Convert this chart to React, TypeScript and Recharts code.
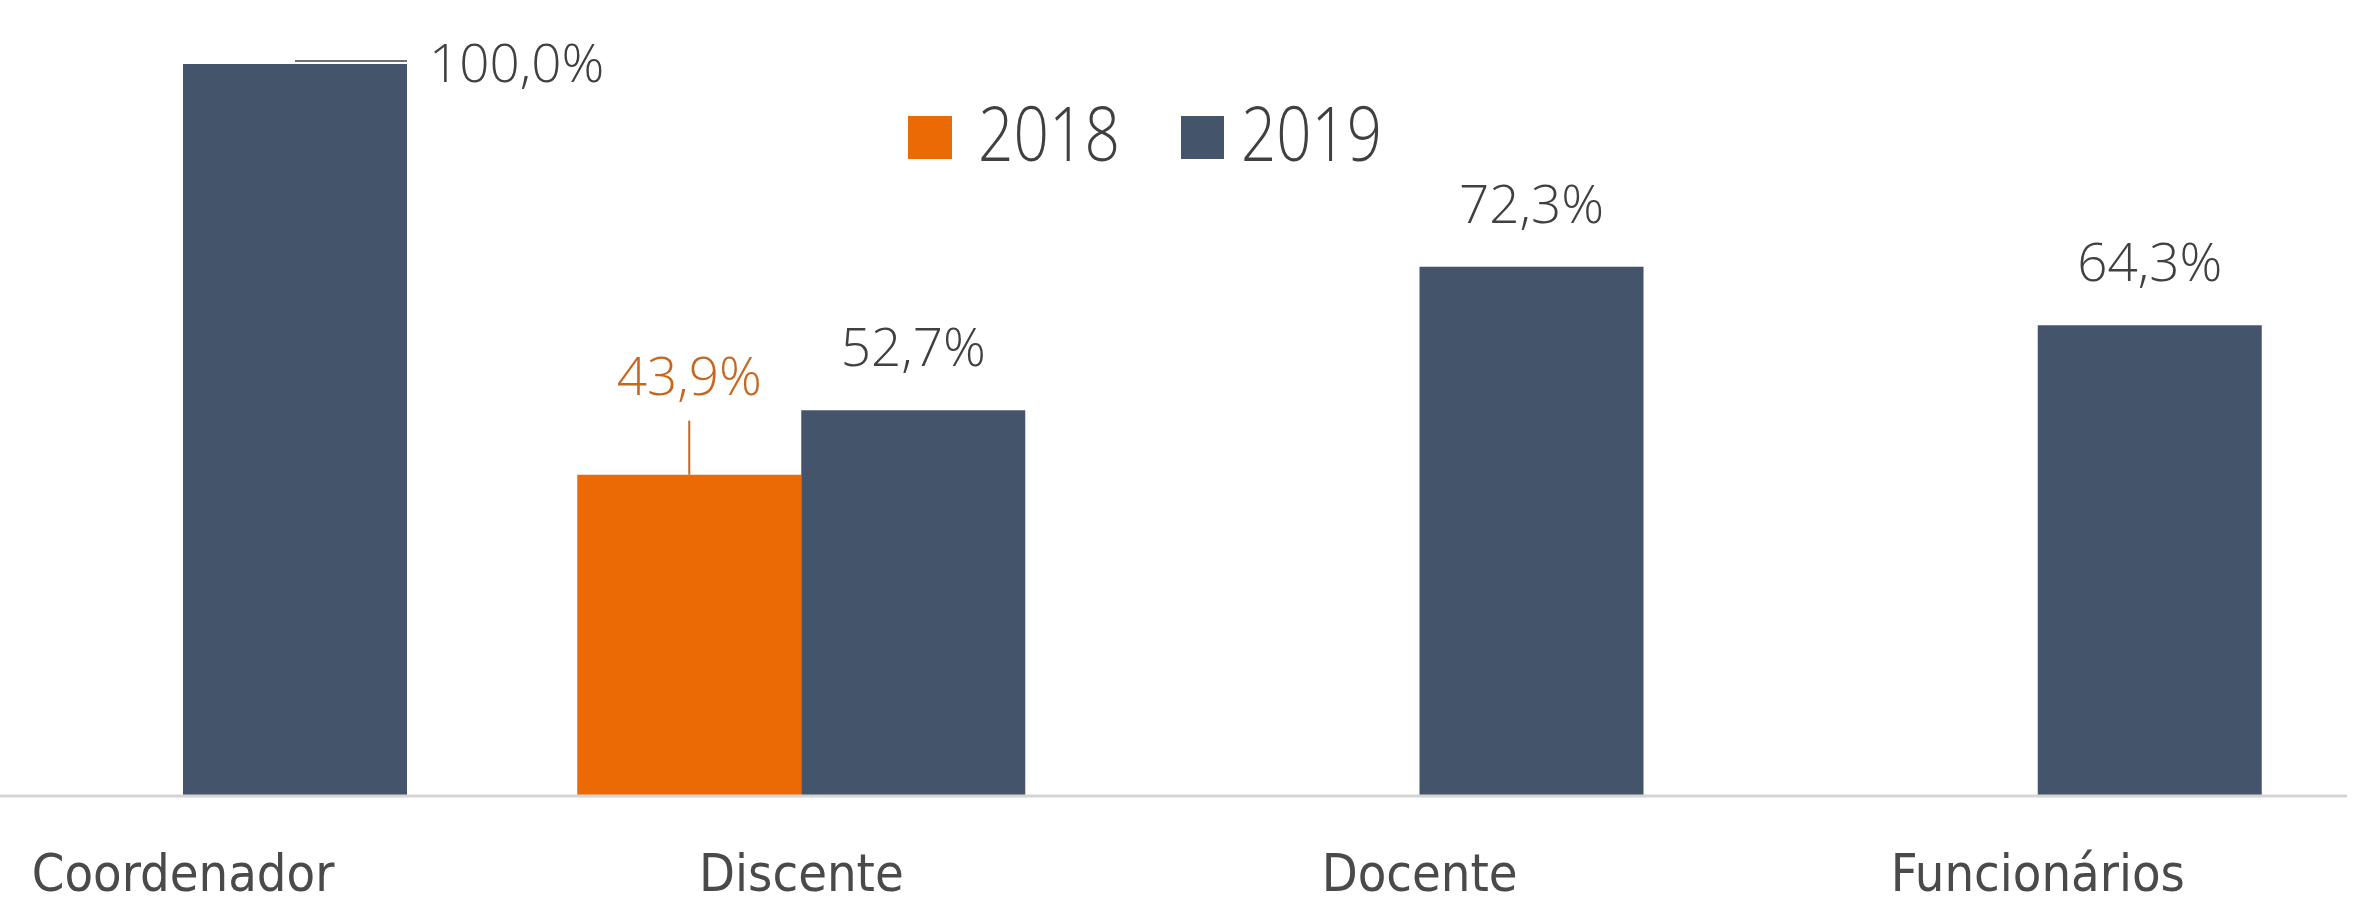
import React from 'react';
import { BarChart, Bar, XAxis, YAxis, LabelList } from 'recharts';

const categories = ['Coordenador', 'Discente', 'Docente', 'Funcionários'];
const values2018 = [null, 43.9, null, null];
const values2019 = [100.0, 52.7, 72.3, 64.3];
const seriesNames = ['2018', '2019'];

const ORANGE = '#EC6A05';
const SLATE = '#44546A';
const TEXT = '#404040';
const ORANGE_TEXT = '#C8661E';

const data = categories.map((name, i) => ({
    name,
    v2018: values2018[i],
    v2019: values2019[i],
}));

const fmt = (v: number) => v.toFixed(1).replace('.', ',') + '%';

const labelFont = { fontFamily: '"Open Sans", "DejaVu Sans", sans-serif', fontWeight: 300, fontSize: 53 };
const legendFont = '"Open Sans", "DejaVu Sans Condensed", sans-serif';

const Label2019 = (props: any) => {
    const { x, y, width, value } = props;
    if (value == null) return null;
    if (value >= 100) {
        // full bar: label goes to the right with a small leader line
        return (
            <g>
                <line x1={x + width / 2} y1={y - 3} x2={x + width} y2={y - 3} stroke="#6f6f6f" strokeWidth={2} />
                <text x={x + width + 22} y={y + 18} fill={TEXT} {...labelFont}>
                    {fmt(value)}
                </text>
            </g>
        );
    }
    return (
        <text x={x + width / 2} y={y - 44} textAnchor="middle" fill={TEXT} {...labelFont}>
            {fmt(value)}
        </text>
    );
};

const Label2018 = (props: any) => {
    const { x, y, width, value } = props;
    if (value == null) return null;
    const cx = x + width / 2;
    return (
        <g>
            <line x1={cx} y1={y - 54} x2={cx} y2={y} stroke={ORANGE_TEXT} strokeWidth={2} />
            <text x={cx} y={y - 80} textAnchor="middle" fill={ORANGE_TEXT} {...labelFont}>
                {fmt(value)}
            </text>
        </g>
    );
};

export default function App() {
    return (
        <div style={{ position: 'absolute', left: 0, top: 0, width: 2356, height: 907, overflow: 'hidden', background: '#fff' }}>
            <div style={{ position: 'absolute', left: -126, top: 0 }}>
                <BarChart
                    width={2480}
                    height={907}
                    data={data}
                    margin={{ top: 64, right: 7, left: 0, bottom: 0 }}
                    barGap={0}
                >
                    <XAxis
                        dataKey="name"
                        height={111}
                        axisLine={{ stroke: '#d4d4d4', strokeWidth: 3 }}
                        tickLine={false}
                        tickSize={8}
                        tickMargin={50}
                        interval={0}
                        tick={{ fill: '#4a4a4a', fontSize: 52, fontFamily: '"DejaVu Sans Condensed", "DejaVu Sans", sans-serif' }}
                    />
                    <YAxis hide domain={[0, 100]} />
                    <Bar dataKey="v2018" name={seriesNames[0]} fill={ORANGE} barSize={224} isAnimationActive={false}>
                        <LabelList dataKey="v2018" content={<Label2018 />} />
                    </Bar>
                    <Bar dataKey="v2019" name={seriesNames[1]} fill={SLATE} barSize={224} isAnimationActive={false}>
                        <LabelList dataKey="v2019" content={<Label2019 />} />
                    </Bar>
                </BarChart>
            </div>
            <svg width={2356} height={907} style={{ position: 'absolute', left: 0, top: 0, pointerEvents: 'none' }}>
                <rect x={908} y={116} width={44} height={43} fill={ORANGE} />
                <text x={978} y={161} fill={TEXT} fontSize={76} fontWeight={300} fontFamily={legendFont} textLength={142} lengthAdjust="spacingAndGlyphs">
                    {seriesNames[0]}
                </text>
                <rect x={1181} y={116} width={43} height={43} fill={SLATE} />
                <text x={1241} y={161} fill={TEXT} fontSize={76} fontWeight={300} fontFamily={legendFont} textLength={141} lengthAdjust="spacingAndGlyphs">
                    {seriesNames[1]}
                </text>
            </svg>
        </div>
    );
}
